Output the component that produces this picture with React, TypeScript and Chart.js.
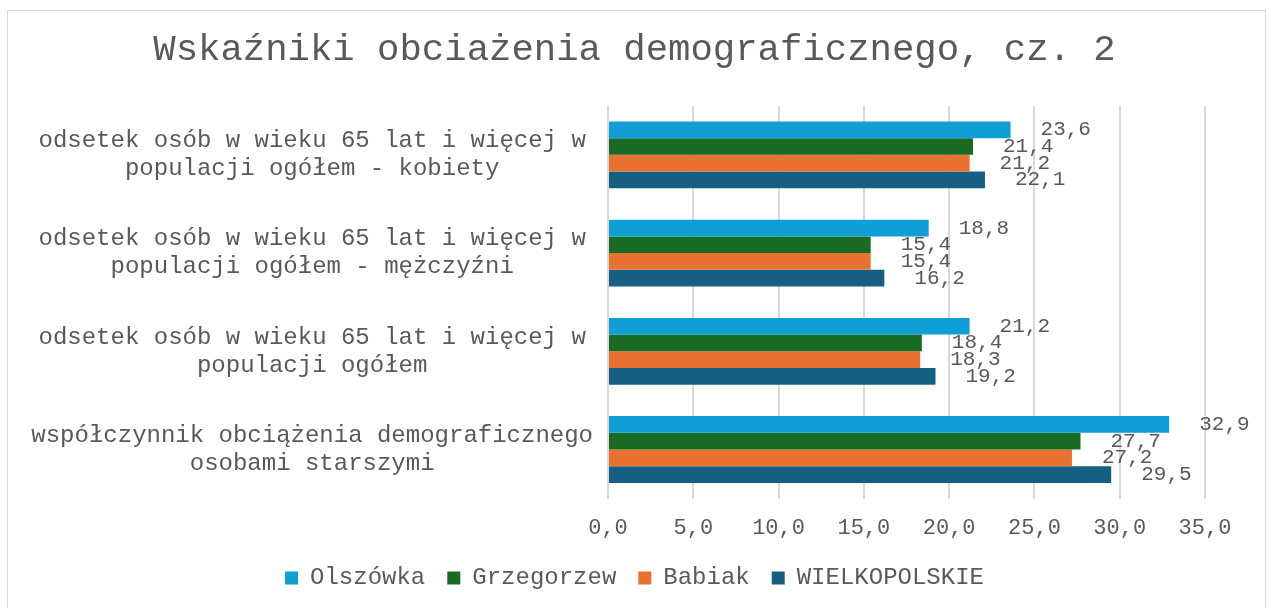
import React, { useEffect, useRef } from "react";
import { Chart, registerables } from "chart.js";

Chart.register(...registerables);

const TITLE = "Wskaźniki obciażenia demograficznego, cz. 2";

const categories: string[][] = [
  ["odsetek osób w wieku 65 lat i więcej w", "populacji ogółem - kobiety"],
  ["odsetek osób w wieku 65 lat i więcej w", "populacji ogółem - mężczyźni"],
  ["odsetek osób w wieku 65 lat i więcej w", "populacji ogółem"],
  ["współczynnik obciążenia demograficznego", "osobami starszymi"],
];

const seriesNames = ["Olszówka", "Grzegorzew", "Babiak", "WIELKOPOLSKIE"];
const olszowka = [23.6, 18.8, 21.2, 32.9];
const grzegorzew = [21.4, 15.4, 18.4, 27.7];
const babiak = [21.2, 15.4, 18.3, 27.2];
const wielkopolskie = [22.1, 16.2, 19.2, 29.5];
const seriesColors = ["#0F9ED5", "#196B24", "#E97132", "#156082"];

const xMin = 0;
const xMax = 35;
const xStep = 5;

const FONT = "'Liberation Mono', 'Courier New', monospace";
const TEXT = "#595959";

const fmt = (v: number) => v.toFixed(1).replace(".", ",");

const dataLabels = {
  id: "dataLabels",
  afterDatasetsDraw(chart: any) {
    const ctx = chart.ctx;
    ctx.save();
    ctx.font = `21px ${FONT}`;
    ctx.fillStyle = TEXT;
    ctx.textAlign = "left";
    ctx.textBaseline = "middle";
    chart.data.datasets.forEach((ds: any, i: number) => {
      const meta = chart.getDatasetMeta(i);
      meta.data.forEach((el: any, j: number) => {
        ctx.fillText(fmt(ds.data[j]), el.x + 30, el.y);
      });
    });
    ctx.restore();
  },
};

export default function App() {
  const ref = useRef<HTMLCanvasElement | null>(null);
  useEffect(() => {
    if (!ref.current) return;
    const all = [olszowka, grzegorzew, babiak, wielkopolskie];
    const chart = new Chart(ref.current, {
      type: "bar",
      data: {
        labels: categories,
        datasets: all.map((d, i) => ({
          label: seriesNames[i],
          data: d,
          backgroundColor: seriesColors[i],
          borderWidth: 0,
          categoryPercentage: 0.68,
          barPercentage: 1.0,
        })),
      },
      options: {
        indexAxis: "y",
        responsive: false,
        animation: false,
        layout: { padding: { left: 0, right: 0, top: 0, bottom: 8 } },
        plugins: {
          title: {
            display: true,
            text: TITLE,
            color: TEXT,
            font: { family: FONT, size: 37.3, weight: "normal" },
            padding: { top: 28, bottom: 33 },
          },
          legend: {
            position: "bottom",
            labels: {
              color: TEXT,
              font: { family: FONT, size: 24 },
              boxWidth: 13,
              boxHeight: 13,
              padding: 22,
            },
          },
          tooltip: { enabled: false },
        },
        scales: {
          x: {
            min: xMin,
            max: xMax,
            ticks: {
              stepSize: xStep,
              color: TEXT,
              font: { family: FONT, size: 22 },
              padding: 16,
              callback: (v: any) => fmt(Number(v)),
            },
            grid: { color: "#d9d9d9", lineWidth: 2, drawTicks: false },
            border: { display: false },
            afterFit: (s: any) => {
              s.height -= 13;
            },
          },
          y: {
            ticks: {
              color: TEXT,
              font: { family: FONT, size: 24, lineHeight: 1.17 },
              crossAlign: "center",
              padding: 15,
            },
            grid: { display: false, drawTicks: false },
            border: { display: false },
            afterFit: (s: any) => {
              s.width = 608;
            },
          },
          rightSpace: {
            type: "linear",
            axis: "y",
            position: "right",
            display: true,
            ticks: { display: false },
            grid: { display: false, drawTicks: false },
            border: { display: false },
            afterFit: (s: any) => {
              s.width = 64;
            },
          },
        },
      },
      plugins: [dataLabels],
    });
    return () => chart.destroy();
  }, []);
  return (
    <div style={{ position: "fixed", left: 0, top: 0, width: 1269, height: 608, background: "#fff" }}>
      <div
        style={{
          position: "absolute",
          left: 7,
          top: 10,
          width: 1257,
          height: 620,
          border: "1px solid #d9d9d9",
        }}
      />
      <canvas ref={ref} width={1269} height={608} style={{ position: "absolute", left: 0, top: 0 }} />
    </div>
  );
}
